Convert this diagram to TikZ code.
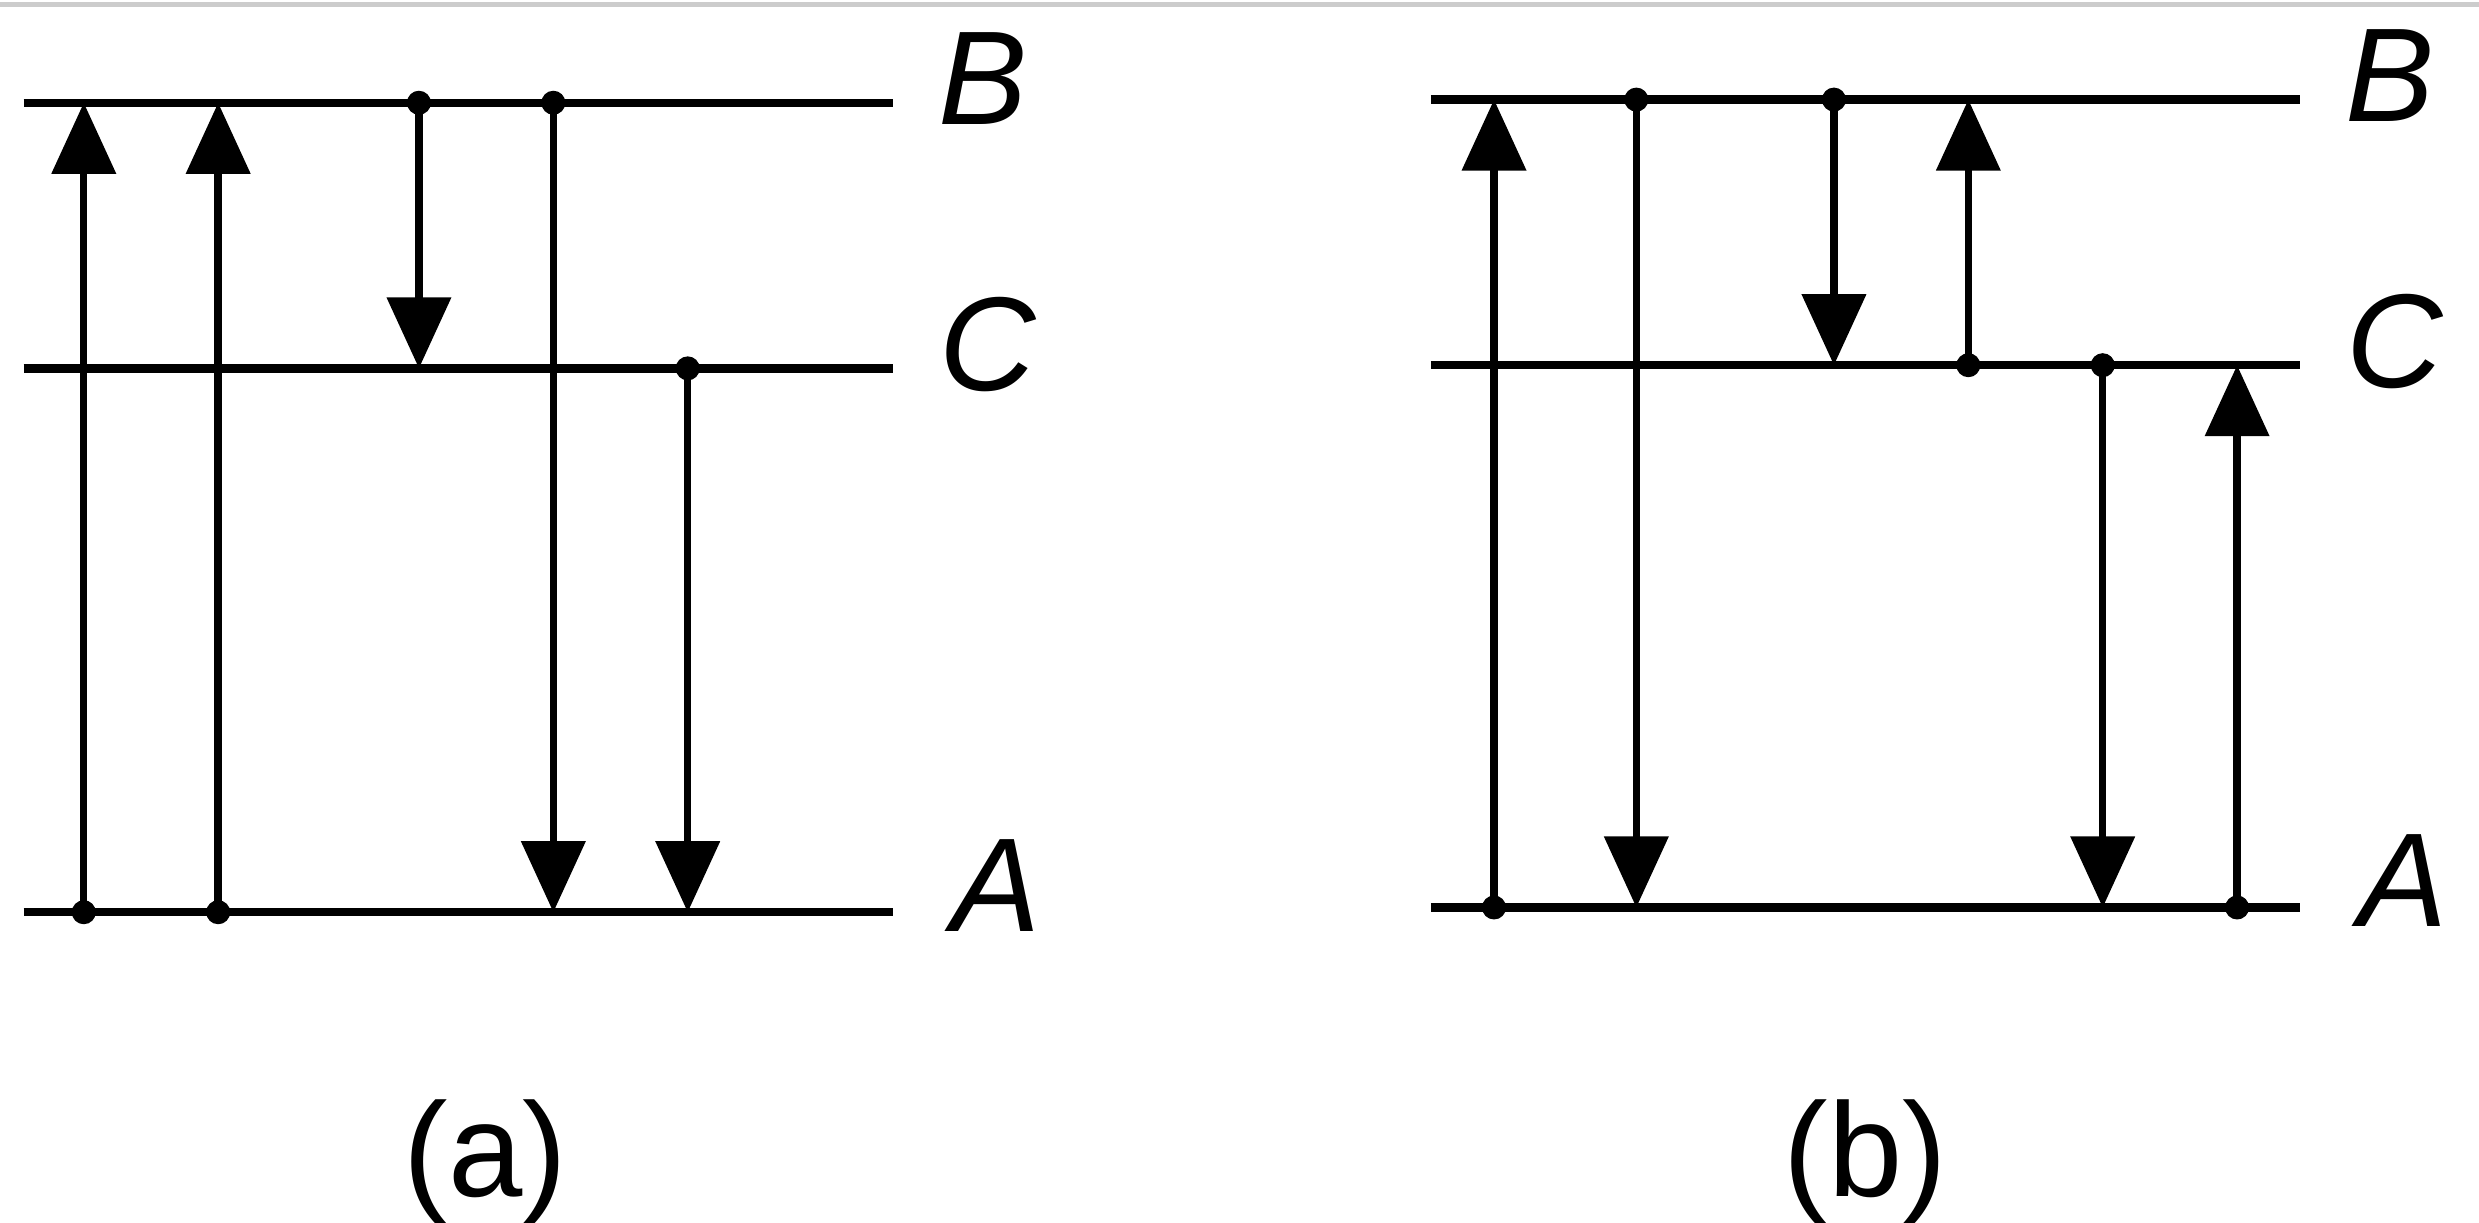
\documentclass[tikz,border=0pt]{standalone}
\usepackage{fontspec}
\setmainfont{Liberation Sans}
\usetikzlibrary{arrows.meta}
\begin{document}
\begin{tikzpicture}[x=0.01581cm,y=-0.01581cm,
  lvl/.style={line width=2.4pt},
  tr/.style={line width=2.1pt,-{Triangle[width=0.63cm,length=0.71cm]}},
  dot/.style={circle,fill,inner sep=0pt,minimum size=0.24cm},
  lab/.style={font=\itshape\fontsize{38}{44}\selectfont},
  captxt/.style={font=\fontsize{38}{44}\selectfont}]
\useasboundingbox (0,0) rectangle (1568,773);
\draw[gray!40,line width=1.5pt] (0,3) -- (1568,3);
% (a)
\coordinate (aB0) at (15,65); \coordinate (aB1) at (565,65);
\coordinate (aC0) at (15,233); \coordinate (aC1) at (565,233);
\coordinate (aA0) at (15,577); \coordinate (aA1) at (565,577);
\draw[lvl] (aB0)--(aB1); \draw[lvl] (aC0)--(aC1); \draw[lvl] (aA0)--(aA1);
\node[lab] (lBa) at (622,50) {B};
\node[lab] (lCa) at (625,218) {C};
\node[lab] (lAa) at (630,560) {A};
\node[dot] (a1s) at (53,577) {}; \coordinate (a1e) at (53,65);
\node[dot] (a2s) at (138,577) {}; \coordinate (a2e) at (138,65);
\node[dot] (a3s) at (265,65) {}; \coordinate (a3e) at (265,233);
\node[dot] (a4s) at (350,65) {}; \coordinate (a4e) at (350,577);
\node[dot] (a5s) at (435,233) {}; \coordinate (a5e) at (435,577);
\foreach \i in {1,...,5}{\draw[tr] (a\i s.center) -- (a\i e);}
\node[captxt] (capa) at (307,735) {(a)};
% (b)
\coordinate (bB0) at (905,63); \coordinate (bB1) at (1455,63);
\coordinate (bC0) at (905,231); \coordinate (bC1) at (1455,231);
\coordinate (bA0) at (905,574); \coordinate (bA1) at (1455,574);
\draw[lvl] (bB0)--(bB1); \draw[lvl] (bC0)--(bC1); \draw[lvl] (bA0)--(bA1);
\node[lab] (lBb) at (1512,48) {B};
\node[lab] (lCb) at (1515,216) {C};
\node[lab] (lAb) at (1520,557) {A};
\node[dot] (b1s) at (945,574) {}; \coordinate (b1e) at (945,63);
\node[dot] (b2s) at (1035,63) {}; \coordinate (b2e) at (1035,574);
\node[dot] (b3s) at (1160,63) {}; \coordinate (b3e) at (1160,231);
\node[dot] (b4s) at (1245,231) {}; \coordinate (b4e) at (1245,63);
\node[dot] (b5s) at (1330,231) {}; \coordinate (b5e) at (1330,574);
\node[dot] (b6s) at (1415,574) {}; \coordinate (b6e) at (1415,231);
\foreach \i in {1,...,6}{\draw[tr] (b\i s.center) -- (b\i e);}
\node[captxt] (capb) at (1180,735) {(b)};
\end{tikzpicture}
\end{document}
